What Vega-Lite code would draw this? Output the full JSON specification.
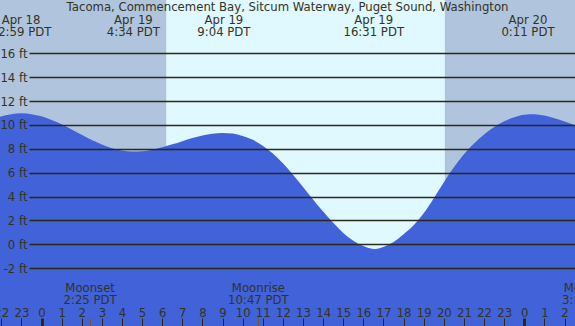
{
  "$schema": "https://vega.github.io/schema/vega-lite/v6.json",
  "width": 575,
  "height": 326,
  "autosize": {"type": "none"},
  "padding": 0,
  "config": {"view": {"stroke": null}, "font": "DejaVu Sans"},
  "datasets": {
    "periods": [
      {"start": -2.063, "end": 6.216, "period": "night"},
      {"start": 6.216, "end": 20.05, "period": "day"},
      {"start": 20.05, "end": 26.52, "period": "night"}
    ],
    "tide": [
      {"t": -2.063, "h": 10.69},
      {"t": -1.5, "h": 10.9},
      {"t": -1.0, "h": 10.97},
      {"t": -0.5, "h": 10.9},
      {"t": 0, "h": 10.72},
      {"t": 0.5, "h": 10.42},
      {"t": 1, "h": 10.05},
      {"t": 1.5, "h": 9.62},
      {"t": 2, "h": 9.17},
      {"t": 2.5, "h": 8.73},
      {"t": 3, "h": 8.35},
      {"t": 3.5, "h": 8.05},
      {"t": 4, "h": 7.85},
      {"t": 4.5, "h": 7.77},
      {"t": 5, "h": 7.8},
      {"t": 5.5, "h": 7.93},
      {"t": 6, "h": 8.13},
      {"t": 6.5, "h": 8.37},
      {"t": 7, "h": 8.64},
      {"t": 7.5, "h": 8.9},
      {"t": 8, "h": 9.11},
      {"t": 8.5, "h": 9.26},
      {"t": 9, "h": 9.32},
      {"t": 9.5, "h": 9.27},
      {"t": 10, "h": 9.08},
      {"t": 10.5, "h": 8.75},
      {"t": 11, "h": 8.25},
      {"t": 11.5, "h": 7.6},
      {"t": 12, "h": 6.78},
      {"t": 12.5, "h": 5.82},
      {"t": 13, "h": 4.8},
      {"t": 13.5, "h": 3.76},
      {"t": 14, "h": 2.74},
      {"t": 14.5, "h": 1.8},
      {"t": 15, "h": 0.95},
      {"t": 15.5, "h": 0.3},
      {"t": 16, "h": -0.15},
      {"t": 16.5, "h": -0.39},
      {"t": 17, "h": -0.22},
      {"t": 17.5, "h": 0.2},
      {"t": 18, "h": 0.85},
      {"t": 18.5, "h": 1.6},
      {"t": 19, "h": 2.6},
      {"t": 19.5, "h": 3.85},
      {"t": 20, "h": 5.2},
      {"t": 20.5, "h": 6.45},
      {"t": 21, "h": 7.55},
      {"t": 21.5, "h": 8.45},
      {"t": 22, "h": 9.2},
      {"t": 22.5, "h": 9.82},
      {"t": 23, "h": 10.3},
      {"t": 23.5, "h": 10.65},
      {"t": 24, "h": 10.86},
      {"t": 24.5, "h": 10.9},
      {"t": 25, "h": 10.78},
      {"t": 25.5, "h": 10.56},
      {"t": 26, "h": 10.28},
      {"t": 26.52, "h": 9.97}
    ],
    "extremes": [
      {"t": -1.017, "date": "Apr 18", "time": "22:59 PDT"},
      {"t": 4.567, "date": "Apr 19", "time": "4:34 PDT"},
      {"t": 9.067, "date": "Apr 19", "time": "9:04 PDT"},
      {"t": 16.517, "date": "Apr 19", "time": "16:31 PDT"},
      {"t": 24.183, "date": "Apr 20", "time": "0:11 PDT"}
    ],
    "moon": [
      {"t": 2.417, "event": "Moonset", "time": "2:25 PDT"},
      {"t": 10.783, "event": "Moonrise", "time": "10:47 PDT"},
      {"t": 27.2, "event": "Moonset", "time": "3:12 PDT"}
    ],
    "titles": [
      {"t": 12.23, "text": "Tacoma, Commencement Bay, Sitcum Waterway, Puget Sound, Washington"}
    ]
  },
  "layer": [
    {
      "data": {"name": "periods"},
      "mark": {"type": "rect", "clip": true},
      "encoding": {
        "x": {"field": "start", "type": "quantitative", "scale": {"domain": [-2.063, 26.52], "nice": false, "zero": false}},
        "x2": {"field": "end"},
        "color": {"field": "period", "type": "nominal", "scale": {"domain": ["night", "day"], "range": ["#B0C4DE", "#E0F8FF"]}, "legend": null}
      }
    },
    {
      "data": {"name": "tide"},
      "mark": {"type": "area", "interpolate": "monotone", "color": "#4162D8", "clip": true},
      "encoding": {
        "x": {"field": "t", "type": "quantitative", "scale": {"domain": [-2.063, 26.52], "nice": false, "zero": false},
          "axis": {
            "title": null, "domain": false, "grid": false, "orient": "bottom", "tickCount": 200,
            "values": [-2, -1, 0, 1, 2, 2.417, 3, 4, 5, 6, 7, 8, 9, 10, 10.783, 11, 12, 13, 14, 15, 16, 17, 18, 19, 20, 21, 22, 23, 24, 25, 26],
            "labelExpr": "datum.value % 1 == 0 ? '' + ((datum.value % 24) + 24) % 24 : ''",
            "offset": -8, "tickSize": 8, "labelPadding": -9.5, "labelBaseline": "alphabetic", "labelAlign": "center",
            "labelOverlap": false, "labelFlush": false, "labelBound": false,
            "labelFont": "DejaVu Sans", "labelFontSize": 11.7, "labelColor": "#333322",
            "tickColor": {"condition": {"test": "datum.value % 1 != 0", "value": "#6b5a2a"}, "value": "#2b2b14"},
            "tickWidth": {"condition": {"test": "datum.value % 24 == 0", "value": 3}, "value": 1},
            "zindex": 2
          }
        },
        "y": {"field": "h", "type": "quantitative", "scale": {"domain": [-6.84, 20.46], "nice": false, "zero": false},
          "axis": {
            "title": null, "domain": false, "grid": false, "orient": "right", "tickCount": 200,
            "values": [-2, 0, 2, 4, 6, 8, 10, 12, 14, 16],
            "labelExpr": "datum.value + ' ft'",
            "tickSize": -546, "labelPadding": -2, "labelAlign": "right", "labelBaseline": "middle",
            "labelOverlap": false, "labelFlush": false, "labelBound": false,
            "labelFont": "DejaVu Sans", "labelFontSize": 11.7, "labelColor": "#333322",
            "tickColor": "#2b2b14", "tickWidth": 1.3,
            "zindex": 2
          }
        },
        "y2": {"datum": -6.84}
      }
    },
    {
      "data": {"name": "titles"},
      "mark": {"type": "text", "baseline": "alphabetic", "align": "center", "fontSize": 11.7, "font": "DejaVu Sans", "color": "#333322"},
      "encoding": {
        "x": {"field": "t", "type": "quantitative", "scale": {"domain": [-2.063, 26.52], "nice": false, "zero": false}},
        "y": {"datum": 19.56, "type": "quantitative", "scale": {"domain": [-6.84, 20.46], "nice": false, "zero": false}},
        "text": {"field": "text"}
      }
    },
    {
      "data": {"name": "extremes"},
      "mark": {"type": "text", "baseline": "alphabetic", "align": "center", "fontSize": 11.7, "font": "DejaVu Sans", "color": "#333322"},
      "encoding": {
        "x": {"field": "t", "type": "quantitative", "scale": {"domain": [-2.063, 26.52], "nice": false, "zero": false}},
        "y": {"datum": 18.45, "type": "quantitative", "scale": {"domain": [-6.84, 20.46], "nice": false, "zero": false}},
        "text": {"field": "date"}
      }
    },
    {
      "data": {"name": "extremes"},
      "mark": {"type": "text", "baseline": "alphabetic", "align": "center", "fontSize": 11.7, "font": "DejaVu Sans", "color": "#333322"},
      "encoding": {
        "x": {"field": "t", "type": "quantitative", "scale": {"domain": [-2.063, 26.52], "nice": false, "zero": false}},
        "y": {"datum": 17.45, "type": "quantitative", "scale": {"domain": [-6.84, 20.46], "nice": false, "zero": false}},
        "text": {"field": "time"}
      }
    },
    {
      "data": {"name": "moon"},
      "mark": {"type": "text", "baseline": "alphabetic", "align": "center", "fontSize": 11.7, "font": "DejaVu Sans", "color": "#333322"},
      "encoding": {
        "x": {"field": "t", "type": "quantitative", "scale": {"domain": [-2.063, 26.52], "nice": false, "zero": false}},
        "y": {"datum": -3.97, "type": "quantitative", "scale": {"domain": [-6.84, 20.46], "nice": false, "zero": false}},
        "text": {"field": "event"}
      }
    },
    {
      "data": {"name": "moon"},
      "mark": {"type": "text", "baseline": "alphabetic", "align": "center", "fontSize": 11.7, "font": "DejaVu Sans", "color": "#333322"},
      "encoding": {
        "x": {"field": "t", "type": "quantitative", "scale": {"domain": [-2.063, 26.52], "nice": false, "zero": false}},
        "y": {"datum": -5.02, "type": "quantitative", "scale": {"domain": [-6.84, 20.46], "nice": false, "zero": false}},
        "text": {"field": "time"}
      }
    }
  ]
}
